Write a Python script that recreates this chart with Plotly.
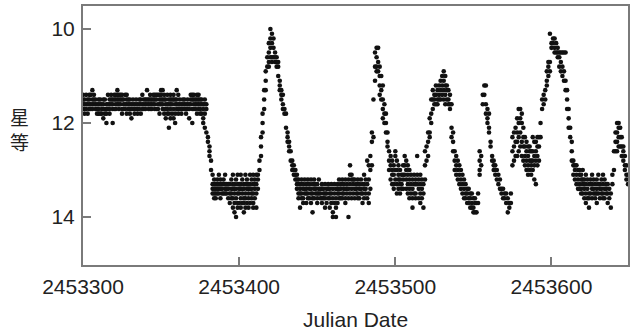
import plotly.graph_objects as go

BASE_JD = 2453300

observations = [
    (0, [11.4, 11.5, 11.6, 11.7]), (1, [11.5, 11.6, 11.7, 11.8]), (2, [11.4, 11.6, 11.7]),
    (3, [11.5, 11.6, 11.8]), (4, [11.4, 11.5, 11.6, 11.7]), (5, [11.4, 11.6, 11.7]),
    (6, [11.3, 11.5, 11.6, 11.7]), (7, [11.4, 11.5, 11.6]), (8, [11.5, 11.6, 11.7]),
    (9, [11.6, 11.7, 11.8]), (10, [11.5, 11.6, 11.7, 11.8]), (11, [11.5, 11.6, 11.8]),
    (12, [11.6, 11.7, 11.8]), (13, [11.5, 11.6, 11.7, 11.9]), (14, [11.5, 11.7, 11.8]),
    (15, [11.6, 11.7, 11.8, 12.0]), (16, [11.4, 11.6, 11.7]), (17, [11.5, 11.6, 11.7, 11.8]),
    (18, [11.4, 11.5, 11.6]), (19, [11.5, 11.6, 11.7, 12.0]), (20, [11.4, 11.5, 11.7]),
    (21, [11.4, 11.5, 11.6, 11.7]), (22, [11.3, 11.4, 11.5, 11.6]), (23, [11.4, 11.5, 11.6, 11.7]),
    (24, [11.4, 11.5, 11.6]), (25, [11.4, 11.5, 11.7, 11.8]), (26, [11.5, 11.6, 11.7]),
    (27, [11.4, 11.6, 11.7]), (28, [11.4, 11.5, 11.6, 11.8]), (29, [11.5, 11.6, 11.7]),
    (30, [11.5, 11.6, 11.7, 11.8]), (31, [11.6, 11.7, 11.9]), (32, [11.5, 11.6, 11.7]),
    (33, [11.6, 11.7, 11.8]), (34, [11.5, 11.6, 11.7]), (35, [11.6, 11.7, 11.8]),
    (36, [11.5, 11.6, 11.7]), (37, [11.5, 11.6, 11.8]), (38, [11.4, 11.6, 11.7]),
    (39, [11.5, 11.6, 11.7]), (40, [11.5, 11.6, 11.7]), (41, [11.3, 11.5, 11.6]),
    (42, [11.5, 11.6, 11.7]), (43, [11.4, 11.5, 11.6, 11.7]), (44, [11.5, 11.6, 11.7]),
    (45, [11.4, 11.5, 11.6]), (46, [11.4, 11.5, 11.6, 11.7]), (47, [11.4, 11.5, 11.7]),
    (48, [11.4, 11.6, 11.7]), (49, [11.4, 11.5, 11.6, 11.8]), (50, [11.3, 11.4, 11.5, 11.6]),
    (51, [11.3, 11.5, 11.6, 11.7]), (52, [11.4, 11.5, 11.7, 11.8]), (53, [11.5, 11.6, 11.7, 11.9]),
    (54, [11.4, 11.6, 11.7, 11.8]), (55, [11.5, 11.6, 11.8, 12.1]), (56, [11.4, 11.5, 11.6, 11.7, 11.9]),
    (57, [11.5, 11.6, 11.8]), (58, [11.4, 11.5, 11.7, 11.9]), (59, [11.5, 11.6, 11.8, 12.0]),
    (60, [11.3, 11.5, 11.6, 11.7]), (61, [11.4, 11.6, 11.7, 11.8]), (62, [11.5, 11.6, 11.7]),
    (63, [11.6, 11.7, 11.8]), (64, [11.5, 11.6, 11.7]), (65, [11.5, 11.6, 11.7]),
    (66, [11.6, 11.7, 11.8]), (67, [11.5, 11.6, 11.7]), (68, [11.6, 11.7, 11.9]),
    (69, [11.4, 11.5, 11.6]), (70, [11.4, 11.5, 11.7, 12.0]), (71, [11.4, 11.5, 11.6, 11.7]),
    (72, [11.5, 11.6, 11.7]), (73, [11.4, 11.5, 11.6, 11.8]), (74, [11.4, 11.5, 11.6, 11.7]),
    (75, [11.5, 11.6, 11.7, 11.8]), (76, [11.5, 11.6, 11.8]), (77, [11.6, 11.7, 11.9, 12.0]),
    (78, [11.5, 11.6, 11.8, 12.1]), (79, [11.6, 11.7, 12.2]), (80, [12.3, 12.4]),
    (81, [12.5, 12.6, 12.7]), (82, [12.8, 13.0]), (83, [13.1, 13.3, 13.4, 13.5]),
    (84, [13.2, 13.3, 13.4, 13.5, 13.6]), (85, [13.3, 13.4, 13.5, 13.6]), (86, [13.2, 13.3, 13.4, 13.5]),
    (87, [13.1, 13.3, 13.4, 13.5]), (88, [13.2, 13.3, 13.4, 13.6]), (89, [13.3, 13.4, 13.5]),
    (90, [13.2, 13.3, 13.5]), (91, [13.1, 13.3, 13.4, 13.5]), (92, [13.3, 13.4, 13.5]),
    (93, [13.3, 13.4, 13.6]), (94, [13.3, 13.5, 13.7]), (95, [13.2, 13.4, 13.5, 13.6]),
    (96, [13.1, 13.3, 13.4, 13.6, 13.8]), (97, [13.3, 13.4, 13.5, 13.7, 13.9]), (98, [13.2, 13.4, 13.6, 14.0]),
    (99, [13.1, 13.3, 13.5, 13.7, 13.8]), (100, [13.3, 13.4, 13.5, 13.7]), (101, [13.1, 13.3, 13.4, 13.6, 13.8]),
    (102, [13.2, 13.4, 13.5, 13.7]), (103, [13.3, 13.4, 13.6, 13.7, 13.9]), (104, [13.1, 13.3, 13.5, 13.6, 13.8]),
    (105, [13.2, 13.3, 13.4, 13.7]), (106, [13.3, 13.4, 13.5, 13.6, 13.8]), (107, [13.1, 13.3, 13.4, 13.7]),
    (108, [13.2, 13.4, 13.5, 13.6]), (109, [13.1, 13.3, 13.5, 13.7, 13.8]), (110, [13.2, 13.3, 13.4, 13.6]),
    (111, [13.1, 13.3, 13.5, 13.8]), (112, [13.1, 13.2, 13.4]), (113, [12.8, 13.0]),
    (114, [12.3, 12.5, 12.7]), (115, [11.8, 12.0, 12.2]), (116, [11.3, 11.5, 11.7]),
    (117, [10.9, 11.1, 11.3]), (118, [10.6, 10.8]), (119, [10.3, 10.5, 10.7, 10.8]),
    (120, [10.0, 10.2, 10.4, 10.6]), (121, [10.1, 10.3, 10.6, 10.7]), (122, [10.2, 10.4, 10.6]),
    (123, [10.5, 10.6, 10.7]), (124, [10.6, 10.7, 10.8]), (125, [10.7, 10.8, 11.0]),
    (126, [11.1, 11.2, 11.3]), (127, [11.3, 11.4, 11.5]), (128, [11.4, 11.6, 11.7]),
    (129, [11.7, 11.8]), (130, [11.8, 12.1]), (131, [12.2, 12.3, 12.4]),
    (132, [12.4, 12.5, 12.6]), (133, [12.6, 12.8]), (134, [12.8, 12.9, 13.0]),
    (135, [12.9, 13.0, 13.1]), (136, [13.0, 13.1, 13.2]), (137, [13.1, 13.2, 13.3, 13.4]),
    (138, [13.2, 13.3, 13.5, 13.6]), (139, [13.3, 13.4, 13.5, 13.8]), (140, [13.2, 13.3, 13.5, 13.6]),
    (141, [13.3, 13.4, 13.6, 13.7]), (142, [13.2, 13.4, 13.5]), (143, [13.3, 13.4, 13.5, 13.7]),
    (144, [13.2, 13.3, 13.5, 13.6]), (145, [13.3, 13.4, 13.6]), (146, [13.2, 13.4, 13.5, 13.7]),
    (147, [13.3, 13.5, 13.6, 13.9]), (148, [13.2, 13.3, 13.4, 13.6]), (149, [13.3, 13.4, 13.5]),
    (150, [13.3, 13.5, 13.6, 13.7]), (151, [13.2, 13.4, 13.5]), (152, [13.4, 13.5, 13.6]),
    (153, [13.3, 13.4, 13.6, 13.7]), (154, [13.4, 13.5, 13.6]), (155, [13.3, 13.5, 13.6, 13.8]),
    (156, [13.4, 13.5, 13.7]), (157, [13.3, 13.4, 13.6]), (158, [13.4, 13.5, 13.6, 13.8]),
    (159, [13.3, 13.5, 13.7]), (160, [13.4, 13.6, 13.9, 14.0]), (161, [13.3, 13.5, 13.7]),
    (162, [13.4, 13.6, 13.8, 14.0]), (163, [13.3, 13.4, 13.5, 13.7]), (164, [13.2, 13.4, 13.5, 13.6]),
    (165, [13.3, 13.4, 13.6]), (166, [13.2, 13.3, 13.5, 13.6]), (167, [13.3, 13.4, 13.5]),
    (168, [13.2, 13.4, 13.6, 13.7]), (169, [13.3, 13.4, 13.5]), (170, [13.2, 13.4, 13.6, 14.0]),
    (171, [12.9, 13.1, 13.3, 13.5]), (172, [13.1, 13.2, 13.4, 13.6]), (173, [13.2, 13.3, 13.5]),
    (174, [13.2, 13.4, 13.6]), (175, [13.3, 13.4, 13.5]), (176, [13.2, 13.3, 13.5, 13.6]),
    (177, [13.3, 13.4, 13.6]), (178, [13.2, 13.4, 13.5]), (179, [13.3, 13.5, 13.7]),
    (180, [13.1, 13.3, 13.4, 13.6]), (181, [13.2, 13.4, 13.5]), (182, [12.8, 13.3, 13.6]),
    (183, [12.9, 13.2, 13.5, 13.7]), (184, [12.7, 13.0, 13.4]), (185, [12.2, 12.4, 12.9]),
    (186, [11.5, 12.3]), (187, [10.5, 10.8, 11.1]), (188, [10.4, 10.6, 10.8, 10.9]),
    (189, [10.4, 10.7, 10.9]), (190, [10.8, 11.0, 11.2, 11.4]), (191, [11.0, 11.3, 11.5]),
    (192, [11.2, 11.5, 11.7, 11.9]), (193, [11.6, 11.8, 12.0]), (194, [11.8, 12.0, 12.2]),
    (195, [12.2, 12.4, 12.5]), (196, [12.6, 12.8, 13.0]), (197, [12.7, 12.9, 13.2]),
    (198, [12.8, 13.0, 13.1, 13.3]), (199, [12.9, 13.1, 13.3, 13.4]), (200, [12.6, 12.7, 13.0, 13.2]),
    (201, [12.8, 13.0, 13.3, 13.5]), (202, [12.9, 13.1, 13.2, 13.4]), (203, [13.0, 13.2, 13.3, 13.5]),
    (204, [13.1, 13.3, 13.4]), (205, [12.9, 13.1, 13.2, 13.4]), (206, [12.7, 12.9, 13.1]),
    (207, [12.8, 13.0, 13.2, 13.4]), (208, [12.9, 13.1, 13.3, 13.5]), (209, [13.0, 13.2, 13.4, 13.6]),
    (210, [13.1, 13.3, 13.5]), (211, [13.2, 13.4, 13.6, 13.8]), (212, [13.1, 13.3, 13.5]),
    (213, [13.2, 13.3, 13.5, 13.6]), (214, [12.7, 13.1, 13.3]), (215, [13.2, 13.4, 13.6]),
    (216, [13.1, 13.3, 13.5, 13.7]), (217, [13.2, 13.4, 13.6]), (218, [13.3, 13.5, 13.8]),
    (219, [12.6, 12.9, 13.2]), (220, [12.5, 12.8]), (221, [12.2, 12.4, 12.7]),
    (222, [11.9, 12.2, 12.3]), (223, [11.5, 11.8, 12.0]), (224, [11.3, 11.5, 11.7]),
    (225, [11.4, 11.5, 11.6]), (226, [11.2, 11.4, 11.6]), (227, [11.3, 11.5, 11.6]),
    (228, [11.2, 11.4, 11.5]), (229, [11.1, 11.3, 11.5]), (230, [11.0, 11.2, 11.4]),
    (231, [10.9, 11.1, 11.3, 11.5]), (232, [11.0, 11.2, 11.4, 11.6]), (233, [11.2, 11.3, 11.5]),
    (234, [11.3, 11.5, 11.6]), (235, [11.4, 11.6, 11.7]), (236, [11.6, 12.1, 12.3]),
    (237, [12.2, 12.4, 12.6]), (238, [12.6, 12.8, 13.0]), (239, [12.7, 12.9, 13.1]),
    (240, [12.8, 13.0, 13.2]), (241, [12.9, 13.1, 13.3]), (242, [13.0, 13.2, 13.4]),
    (243, [13.1, 13.3, 13.5]), (244, [13.2, 13.4, 13.6]), (245, [13.3, 13.5, 13.6]),
    (246, [13.4, 13.5, 13.7]), (247, [13.4, 13.6, 13.7]), (248, [13.5, 13.6, 13.8]),
    (249, [13.5, 13.7, 13.8]), (250, [13.6, 13.8, 13.9]), (251, [13.6, 13.7, 13.9]),
    (252, [13.7, 13.9]), (253, [13.5, 13.7]), (254, [12.6, 12.8, 13.0, 13.1]),
    (255, [12.7, 12.9]), (256, [11.4, 11.6]), (257, [11.2, 11.4]),
    (258, [11.2, 11.6, 11.8]), (259, [11.7, 11.9, 12.0]), (260, [11.8, 12.1, 12.2]),
    (261, [12.4, 12.5]), (262, [12.7, 12.8]), (263, [12.8, 12.9, 13.0]),
    (264, [12.9, 13.0, 13.1]), (265, [13.0, 13.2]), (266, [13.1, 13.3]),
    (267, [13.2, 13.4]), (268, [13.4, 13.5]), (269, [13.4, 13.6]),
    (270, [13.5, 13.6]), (271, [13.5, 13.7]), (272, [13.6, 13.9]),
    (273, [13.7, 13.8]), (274, [13.5, 13.7]), (275, [12.3, 12.6, 12.9]),
    (276, [12.2, 12.5, 12.8]), (277, [12.1, 12.4, 12.7]), (278, [11.9, 12.2, 12.4, 12.7]),
    (279, [11.7, 12.0, 12.3, 12.6]), (280, [11.7, 11.9, 12.2, 12.5]), (281, [11.8, 12.0, 12.4, 12.7]),
    (282, [12.1, 12.3, 12.5, 12.8]), (283, [12.3, 12.5, 12.7, 12.9]), (284, [12.4, 12.6, 12.8, 13.0]),
    (285, [12.5, 12.7, 12.9, 13.1]), (286, [12.5, 12.6, 12.8, 13.0]), (287, [12.6, 12.8, 12.9, 13.1]),
    (288, [12.3, 12.6, 12.8, 13.0]), (289, [12.4, 12.7, 12.9, 13.2]), (290, [12.4, 12.6, 12.8, 13.3]),
    (291, [12.3, 12.5, 12.7, 12.9]), (292, [12.3, 12.5, 12.8]), (293, [12.0, 12.3]),
    (294, [11.5, 11.7]), (295, [11.4, 11.6]), (296, [11.3, 11.5]),
    (297, [10.9, 11.1, 11.2]), (298, [10.7, 10.8, 11.0]), (299, [10.1, 10.7, 10.9]),
    (300, [10.3, 10.4]), (301, [10.2, 10.3]), (302, [10.2, 10.4, 10.5]),
    (303, [10.3, 10.5]), (304, [10.4, 10.5, 10.6]), (305, [10.5, 10.6, 10.8]),
    (306, [10.5, 10.7, 10.9]), (307, [10.5, 10.8, 11.0]), (308, [10.5, 10.9, 11.1]),
    (309, [10.5, 11.1, 11.3]), (310, [11.3, 11.5, 11.7]), (311, [11.7, 11.9, 12.1]),
    (312, [12.1, 12.3]), (313, [12.4, 12.6, 12.8]), (314, [12.8, 12.9, 13.1]),
    (315, [12.9, 13.0, 13.2]), (316, [12.9, 13.1, 13.3]), (317, [13.0, 13.2, 13.4]),
    (318, [13.0, 13.1, 13.3, 13.4]), (319, [13.1, 13.2, 13.4, 13.5]), (320, [13.0, 13.2, 13.3, 13.5]),
    (321, [13.2, 13.3, 13.4, 13.6]), (322, [13.1, 13.3, 13.5, 13.7]), (323, [13.2, 13.4, 13.6]),
    (324, [13.3, 13.5, 13.6, 13.8]), (325, [13.2, 13.3, 13.5]), (326, [13.1, 13.3, 13.4, 13.6]),
    (327, [13.2, 13.4, 13.5]), (328, [13.3, 13.5, 13.6]), (329, [13.2, 13.4, 13.5, 13.7]),
    (330, [13.1, 13.3, 13.5]), (331, [13.3, 13.4, 13.6]), (332, [13.2, 13.4, 13.5]),
    (333, [13.1, 13.3, 13.5, 13.6]), (334, [13.2, 13.4, 13.6]), (335, [13.3, 13.4, 13.5]),
    (336, [13.3, 13.5, 13.7]), (337, [13.4, 13.6]), (338, [13.5, 13.8]),
    (339, [13.1, 13.3]), (340, [12.6, 13.0]), (341, [12.2, 12.4, 12.6]),
    (342, [12.0, 12.2, 12.4, 12.6]), (343, [12.0, 12.1, 12.3, 12.5]), (344, [12.1, 12.3, 12.5]),
    (345, [12.3, 12.5, 12.7]), (346, [12.5, 12.6, 12.8]), (347, [12.7, 12.9, 13.0]),
    (348, [12.9, 13.1, 13.2]), (349, [13.1, 13.3]),
]

x_tick_values = [2453300, 2453400, 2453500, 2453600]
x_tick_labels = ["2453300", "2453400", "2453500", "2453600"]
y_tick_values = [10, 12, 14]
y_tick_labels = ["10", "12", "14"]
x_title = "Julian Date"
y_title = "星<br>等"

julian_date = []
magnitude = []
for day, mags in observations:
    for m in mags:
        julian_date.append(BASE_JD + day)
        magnitude.append(m)

AXIS_GRAY = "#7a7a7a"
TEXT = "#222222"
FONT = "Liberation Sans, Arial, Helvetica, sans-serif"

fig = go.Figure()
fig.add_trace(go.Scatter(
    x=julian_date, y=magnitude, mode="markers",
    marker=dict(size=4.6, color="#111111", line=dict(width=0)),
    showlegend=False, hoverinfo="x+y",
))

fig.update_layout(
    width=632, height=331,
    margin=dict(l=83, r=4, t=6, b=66, autoexpand=False),
    paper_bgcolor="white", plot_bgcolor="white",
    font=dict(family=FONT, color=TEXT, size=21),
    xaxis=dict(
        range=[2453300, 2453649], tickvals=x_tick_values, ticktext=x_tick_labels,
        ticks="inside", ticklen=8, tickwidth=1.5, tickcolor=AXIS_GRAY,
        showline=True, linecolor=AXIS_GRAY, linewidth=2, mirror=True,
        showgrid=False, zeroline=False, automargin=False,
        tickfont=dict(size=21, color=TEXT, family=FONT),
        ticklabelstandoff=2,
    ),
    yaxis=dict(
        range=[15.02, 9.51], tickvals=y_tick_values, ticktext=y_tick_labels,
        ticks="inside", ticklen=8, tickwidth=1.5, tickcolor=AXIS_GRAY,
        showline=True, linecolor=AXIS_GRAY, linewidth=2, mirror=True,
        showgrid=False, zeroline=False, automargin=False,
        tickfont=dict(size=21, color=TEXT, family=FONT),
        ticklabelstandoff=2,
    ),
    annotations=[
        dict(text=x_title, xref="paper", yref="paper", x=0.5, y=-0.2085,
             xanchor="center", yanchor="middle", showarrow=False,
             font=dict(family=FONT, size=21, color=TEXT)),
        dict(text=y_title, xref="paper", yref="paper", x=-0.1156, y=0.525,
             xanchor="center", yanchor="middle", showarrow=False,
             font=dict(family="Noto Sans CJK SC", size=19, color=TEXT)),
    ],
)

fig.write_html(
    "out.html",
    config={"displayModeBar": False},
    post_script="document.body.style.margin='0';document.body.style.overflow='hidden';",
)
